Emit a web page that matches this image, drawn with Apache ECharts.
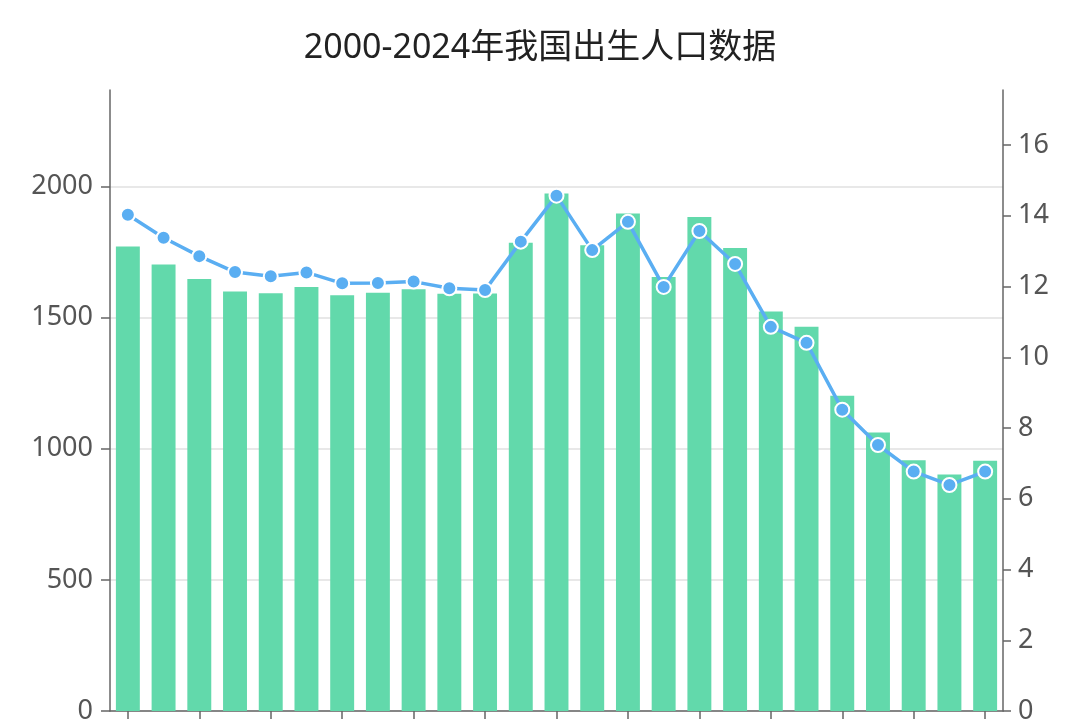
<!DOCTYPE html>
<html>
<head>
<meta charset="utf-8">
<title>2000-2024年我国出生人口数据</title>
<script src="https://cdn.jsdelivr.net/npm/echarts@6/dist/echarts.min.js"></script>
<style>
	html, body { margin: 0; padding: 0; background: #fff; }
	#chart { width: 1080px; height: 720px; }
</style>
</head>
<body>
<div id="chart"></div>
<script>
// 年份
var years = ['2000', '2001', '2002', '2003', '2004', '2005', '2006', '2007', '2008', '2009',
	'2010', '2011', '2012', '2013', '2014', '2015', '2016', '2017', '2018', '2019',
	'2020', '2021', '2022', '2023', '2024'];
// 出生人口（万人）
var births = [1771, 1702, 1647, 1599, 1593, 1617, 1585, 1595, 1608, 1591,
	1592, 1785, 1973, 1776, 1897, 1655, 1883, 1765, 1523, 1465,
	1202, 1062, 956, 902, 954];
// 出生率（‰）
var birthRate = [14.03, 13.38, 12.86, 12.41, 12.29, 12.40, 12.09, 12.10, 12.14, 11.95,
	11.90, 13.27, 14.57, 13.03, 13.83, 11.99, 13.57, 12.64, 10.86, 10.41,
	8.52, 7.52, 6.77, 6.39, 6.77];

var FONT = '"Noto Sans", "Noto Sans CJK SC", sans-serif';
var axisLineStyle = { show: true, lineStyle: { color: '#666', width: 1.5 } };
var tickStyle = { color: '#666', width: 1.5 };

// 纯数字，不要千分位
function plain(v) { return String(v); }

var chart = echarts.init(document.getElementById('chart'));
chart.setOption({
	animation: false,
	backgroundColor: '#fff',
	title: {
		text: '2000-2024年我国出生人口数据',
		left: 'center',
		top: 26,
		textStyle: { fontSize: 34, fontWeight: 'normal', color: '#222', fontFamily: FONT }
	},
	grid: { left: 110, right: 77, top: 90, bottom: 9, containLabel: false, outerBoundsMode: 'none' },
	xAxis: {
		type: 'category',
		data: years,
		axisLine: axisLineStyle,
		axisTick: { show: true, alignWithLabel: true, interval: 1, length: 8, lineStyle: tickStyle },
		axisLabel: { interval: 1, color: '#555', fontSize: 22, fontFamily: FONT }
	},
	yAxis: [{
		type: 'value',
		min: 0,
		max: function (v) { return v.max * 1.2; },
		interval: 500,
		axisLine: axisLineStyle,
		axisTick: { show: true, length: 9, lineStyle: tickStyle },
		axisLabel: { color: '#555', fontSize: 27, fontFamily: FONT, margin: 17, showMaxLabel: false, formatter: plain },
		splitLine: { show: true, showMaxLine: false, lineStyle: { color: '#e0e0e0', width: 1.5 } }
	}, {
		type: 'value',
		min: 0,
		max: function (v) { return v.max * 1.205; },
		interval: 2,
		axisLine: axisLineStyle,
		axisTick: { show: true, length: 8, lineStyle: tickStyle },
		axisLabel: { color: '#555', fontSize: 27, fontFamily: FONT, margin: 15, showMaxLabel: false, formatter: plain },
		splitLine: { show: false }
	}],
	series: [{
		name: '出生人口',
		type: 'bar',
		data: births,
		barWidth: '67%',
		itemStyle: { color: '#62d9ab' }
	}, {
		name: '出生率',
		type: 'line',
		yAxisIndex: 1,
		data: birthRate,
		symbol: 'circle',
		symbolSize: 14,
		lineStyle: { color: '#5aaef2', width: 3.5 },
		itemStyle: { color: '#5aaef2', borderColor: '#fff', borderWidth: 2 }
	}]
});
</script>
</body>
</html>
